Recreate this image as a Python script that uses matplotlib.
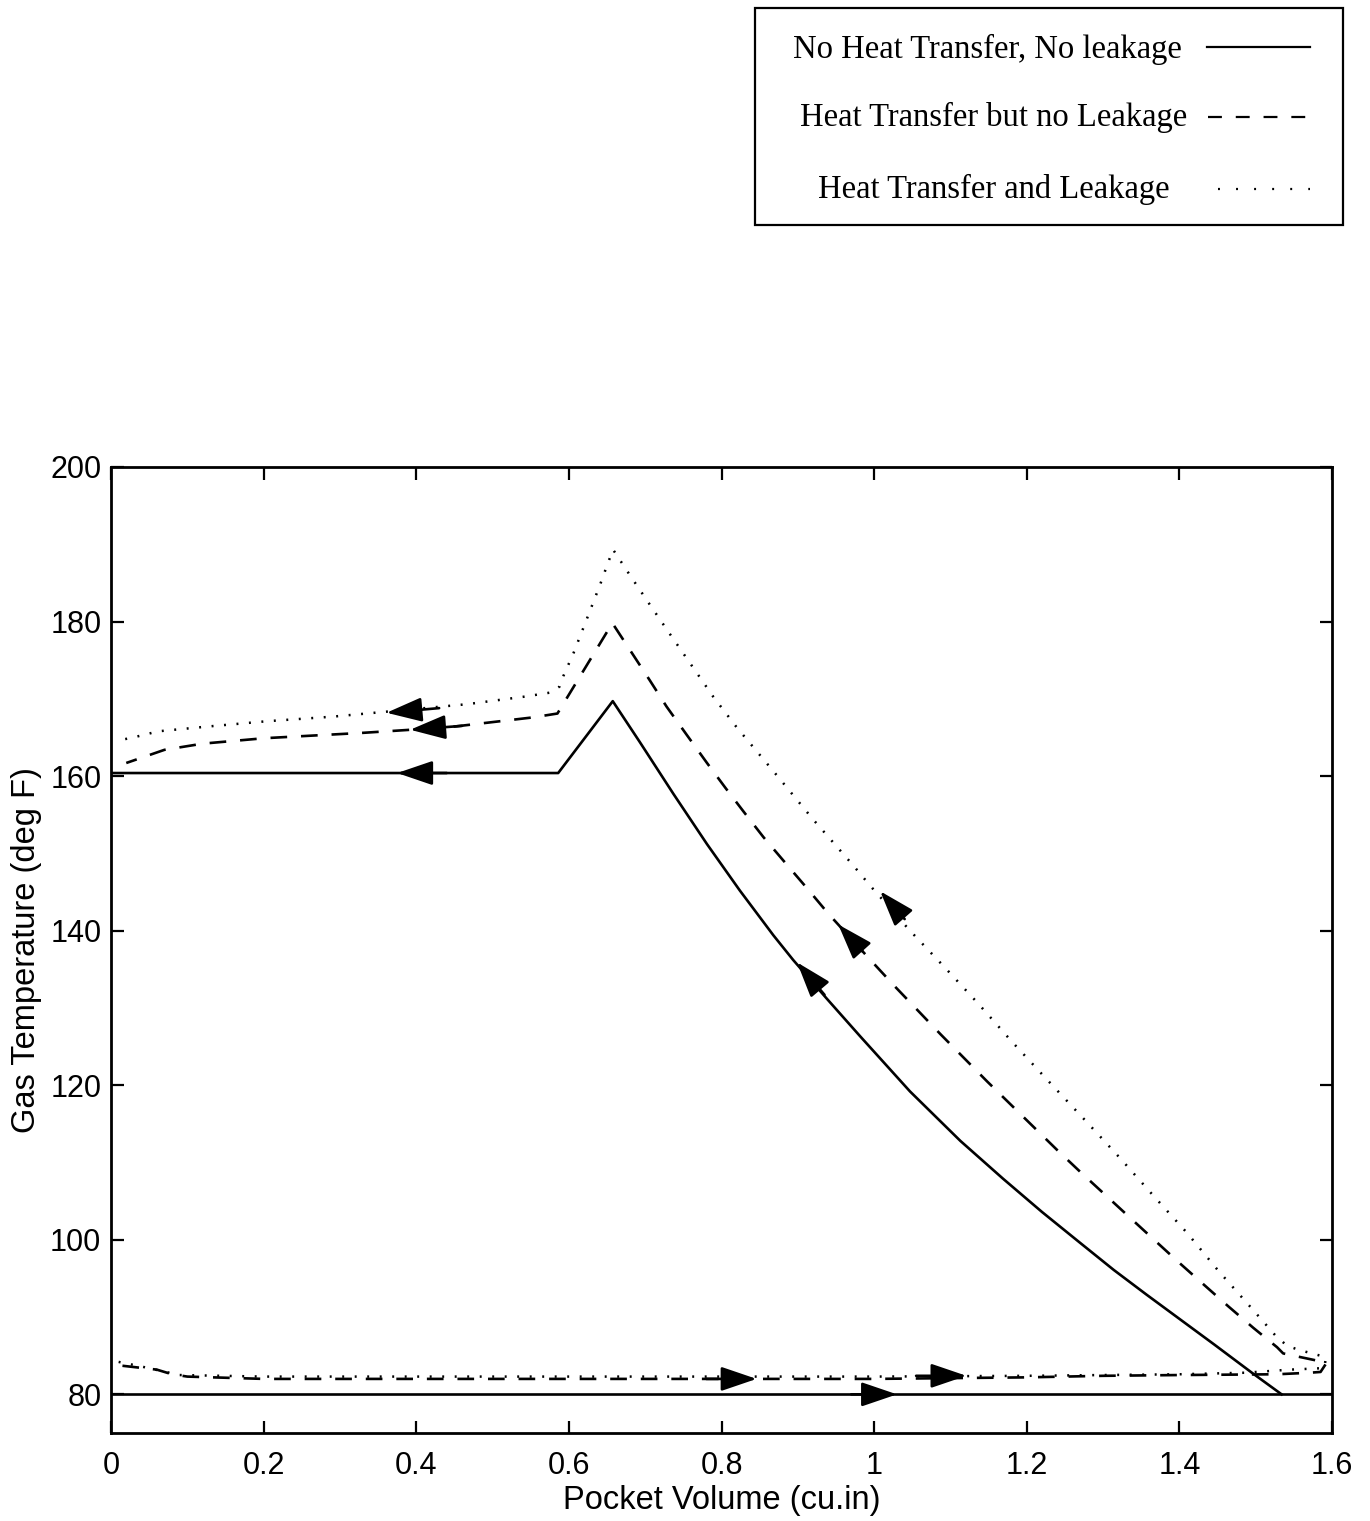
import matplotlib
matplotlib.use("Agg")
import matplotlib.pyplot as plt
from matplotlib.lines import Line2D
from matplotlib.patches import Rectangle

plt.rcParams["font.family"] = ["Liberation Sans", "DejaVu Sans"]
plt.rcParams["lines.scale_dashes"] = False

# ---------------- data: pocket volume (cu.in) vs gas temperature (deg F) ----------------
# No heat transfer, no leakage
solid_suction_v = [0.0, 1.6]
solid_suction_t = [80.0, 80.0]
solid_comp_v = [1.534, 1.495, 1.445, 1.401, 1.357, 1.314, 1.270, 1.220, 1.169, 1.113,
                1.047, 0.982, 0.938, 0.894, 0.868, 0.824, 0.781, 0.737, 0.693, 0.6575,
                0.586, 0.0]
solid_comp_t = [80.0, 82.8, 86.5, 89.7, 92.9, 96.1, 99.6, 103.6, 107.9, 112.8,
                119.2, 126.3, 131.2, 136.2, 139.4, 145.2, 151.2, 157.7, 164.4, 169.7,
                160.4, 160.4]

# Heat transfer but no leakage
dash_suction_v = [0.015, 0.06, 0.08, 0.10, 0.20, 0.60, 1.00, 1.20, 1.30, 1.40, 1.528, 1.571, 1.585]
dash_suction_t = [83.7, 83.2, 82.6, 82.3, 82.0, 82.0, 82.0, 82.2, 82.4, 82.5, 82.6, 82.8, 82.9]
dash_comp_v = [1.593, 1.574, 1.550, 1.536, 1.528, 1.497, 1.464, 1.432, 1.399, 1.368, 1.336,
               1.303, 1.270, 1.239, 1.209, 1.178, 1.148, 1.117, 1.087, 1.058, 1.028, 0.999,
               0.940, 0.912, 0.886, 0.855, 0.829, 0.805, 0.781, 0.754, 0.728, 0.706, 0.657,
               0.585, 0.553, 0.44, 0.33, 0.20, 0.12, 0.07, 0.02]
dash_comp_t = [84.1, 84.5, 85.0, 85.3, 86.1, 88.6, 91.4, 94.2, 97.1, 99.9, 102.8,
               105.8, 108.8, 111.7, 114.6, 117.6, 120.5, 123.6, 126.6, 129.6, 132.7, 135.8,
               142.2, 145.5, 148.5, 152.1, 155.4, 158.5, 161.7, 165.4, 169.0, 172.4, 179.8,
               168.1, 167.6, 166.3, 165.6, 164.9, 164.2, 163.4, 161.7]

# Heat transfer and leakage
dot_suction_v = [0.01, 0.04, 0.09, 0.20, 0.60, 1.00, 1.20, 1.40, 1.486, 1.545, 1.59]
dot_suction_t = [84.2, 83.6, 82.5, 82.3, 82.3, 82.3, 82.4, 82.6, 82.8, 83.2, 83.4]
dot_comp_v = [1.592, 1.574, 1.558, 1.541, 1.526, 1.495, 1.451, 1.410, 1.366, 1.322, 1.279,
              1.224, 1.180, 1.137, 1.093, 1.047, 0.995, 0.973, 0.920, 0.870, 0.820, 0.789,
              0.761, 0.733, 0.706, 0.680, 0.658, 0.652, 0.641, 0.623, 0.606, 0.593, 0.588,
              0.575, 0.543, 0.466, 0.291, 0.204, 0.125, 0.062, 0.029, 0.014]
dot_comp_t = [84.8, 85.3, 85.7, 86.3, 87.6, 91.1, 96.0, 100.9, 105.7, 110.6, 115.2,
              121.0, 125.7, 130.5, 135.2, 140.0, 145.8, 148.4, 154.4, 160.4, 166.3, 170.3,
              174.3, 178.3, 182.2, 186.0, 189.3, 187.8, 184.8, 180.2, 175.9, 173.0, 171.6,
              170.8, 170.3, 169.3, 167.7, 167.1, 166.4, 165.8, 165.0, 164.7]

# Direction arrows along each cycle: (tail V, tail T, tip V, tip T)
solid_arrows = [(0.44, 160.4, 0.375, 160.4),
                (0.935, 131.7, 0.899, 135.9),
                (0.97, 80.0, 1.03, 80.0)]
dash_arrows = [(0.46, 166.5, 0.392, 166.0),
               (0.985, 137.3, 0.953, 140.8),
               (0.78, 82.0, 0.846, 82.0)]
dot_arrows = [(0.43, 168.8, 0.361, 168.2),
              (1.040, 141.5, 1.008, 145.1),
              (1.055, 82.4, 1.121, 82.4)]

x_ticks = [0, 0.2, 0.4, 0.6, 0.8, 1.0, 1.2, 1.4, 1.6]
x_tick_labels = ["0", "0.2", "0.4", "0.6", "0.8", "1", "1.2", "1.4", "1.6"]
y_ticks = [80, 100, 120, 140, 160, 180, 200]

legend_labels = ["No Heat Transfer, No leakage",
                 "Heat Transfer but no Leakage",
                 "Heat Transfer and Leakage"]

# ---------------- figure ----------------
W, H = 1370, 1521
fig = plt.figure(figsize=(W / 100, H / 100), dpi=100)
ax = fig.add_axes([111 / W, 1 - 1433 / H, 1221 / W, 966 / H])

solid_style = dict(color="black", lw=1.9, linestyle="-")
dash_style = dict(color="black", lw=1.9, linestyle=(0, (12, 10)))
dot_style = dict(color="black", lw=1.8, linestyle=(0, (1.4, 7.6)))

ax.plot(solid_suction_v, solid_suction_t, **solid_style)
ax.plot(solid_comp_v, solid_comp_t, **solid_style)
ax.plot(dash_suction_v + dash_comp_v, dash_suction_t + dash_comp_t, **dash_style)
ax.plot(dot_suction_v + dot_comp_v, dot_suction_t + dot_comp_t, **dot_style)

for arrows in (solid_arrows, dash_arrows, dot_arrows):
    for v0, t0, v1, t1 in arrows:
        ax.annotate("", xy=(v1, t1), xytext=(v0, t0),
                    arrowprops=dict(arrowstyle="-|>,head_length=2.2,head_width=0.75",
                                    mutation_scale=10, color="black", lw=1.9,
                                    shrinkA=0, shrinkB=0))

ax.set_xlim(0, 1.6)
ax.set_ylim(75, 200)
ax.set_xticks(x_ticks)
ax.set_xticklabels(x_tick_labels)
ax.set_yticks(y_ticks)
ax.tick_params(direction="in", length=9, width=1.6, labelsize=22,
               top=True, right=True)
ax.tick_params(axis="x", pad=13)
ax.tick_params(axis="y", pad=7)
for sp in ax.spines.values():
    sp.set_linewidth(2.0)

ax.set_xlabel("Pocket Volume (cu.in)", fontsize=23.5)
ax.set_ylabel("Gas Temperature (deg F)", fontsize=23.5)
ax.xaxis.set_label_coords(0.5, -(1500 - 1433) / 966)
ax.xaxis.label.set_va("center")
ax.yaxis.set_label_coords(-(111 - 27) / 1221, 0.5)
ax.yaxis.label.set_va("center")

# ---------------- legend box ----------------
def fx(px):
    return px / W


def fy(py):
    return 1 - py / H


fig.add_artist(Rectangle((fx(755), fy(225)), (1343 - 755) / W, (225 - 8) / H,
                         transform=fig.transFigure, fill=False, ec="black", lw=1.6))

text_centers = [987, 994, 994]
baselines = [58, 126, 198]
line_y = [47, 117, 189]
line_x0 = [1207, 1208, 1218]
legend_styles = [dict(color="black", lw=1.6, linestyle="-"),
                 dict(color="black", lw=1.6, linestyle=(0, (10, 10))),
                 dict(color="black", lw=1.6, linestyle=(0, (1.4, 11.6)))]
for lab, cx, by, ly, lx0, st in zip(legend_labels, text_centers, baselines,
                                    line_y, line_x0, legend_styles):
    fig.text(fx(cx), fy(by), lab, ha="center", va="baseline", fontsize=23.5,
             family=["Liberation Serif", "DejaVu Serif"])
    fig.add_artist(Line2D([fx(lx0), fx(1310)], [fy(ly), fy(ly)],
                          transform=fig.transFigure, **st))

fig.savefig("out.png", dpi=100)
